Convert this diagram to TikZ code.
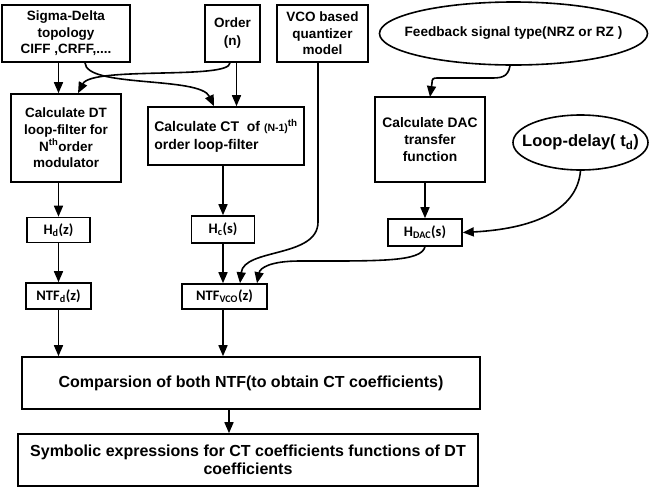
\documentclass[tikz,border=0pt]{standalone}
\usepackage{fontspec}
\setmainfont{Liberation Sans}
\newfontfamily\calfont{Carlito}
\usetikzlibrary{shapes.geometric,arrows.meta}
\begin{document}
\begin{tikzpicture}[x=1pt,y=-1pt,
  box/.style={draw, line width=1.6pt, inner sep=1pt, align=center,
    font=\bfseries\fontsize{13.5}{16.6}\selectfont},
  hbox/.style={draw, line width=1.6pt, inner sep=1pt, align=center,
    font=\calfont\bfseries\fontsize{14.5}{16}\selectfont},
  ell/.style={draw, ellipse, line width=1.6pt, inner ysep=0pt, align=center},
  arr/.style={line width=1.6pt, -{Triangle[length=11pt,width=9pt]}},
  ln/.style={line width=1.6pt}]
\useasboundingbox (0,0) rectangle (649,491);
% top row
\node[box, minimum width=128, minimum height=57] (sd) at (66,33.5) {Sigma-Delta\\topology\\CIFF ,CRFF,....};
\node[box, minimum width=55, minimum height=57, font=\bfseries\fontsize{13.5}{18}\selectfont] (ord) at (232.5,33.5) {Order\\(n)};
\node[box, minimum width=91, minimum height=57] (vco) at (322.5,33.5) {VCO based\\quantizer\\model};
\node[ell, minimum width=268, minimum height=63, inner xsep=-16pt, font=\bfseries\fontsize{13.6}{15}\selectfont] (fb) at (513.5,33.5) {Feedback signal type(NRZ or RZ )};
% second row
\node[box, minimum width=110, minimum height=88] (dt) at (66,138) {Calculate DT\\loop-filter for\\N\textsuperscript{th}order\\modulator};
\node[box, minimum width=156, minimum height=58, align=left, font=\bfseries\fontsize{14}{18}\selectfont] (ct) at (226,136) {Calculate CT\ \ of {\fontsize{10.5}{10}\selectfont(N-1)}\textsuperscript{th}\\order loop-filter};
\node[box, minimum width=110, minimum height=85, font=\bfseries\fontsize{13.8}{17}\selectfont] (dac) at (430,139.5) {Calculate DAC\\transfer\\function};
\node[ell, minimum width=135, minimum height=55, inner xsep=-13pt, font=\bfseries\fontsize{16.5}{18}\selectfont] (ld) at (580.5,142.5) {Loop-delay( t\textsubscript{d})};
% transfer functions
\node[hbox, minimum width=63, minimum height=25] (hd) at (58.5,230) {H\textsubscript{d}(z)};
\node[hbox, minimum width=63, minimum height=27] (hc) at (223,229.5) {H\textsubscript{c}(s)};
\node[hbox, minimum width=74, minimum height=27] (hdac) at (425,232.5) {H\textsubscript{DAC}(s)};
\node[hbox, minimum width=65, minimum height=26] (ntfd) at (58.5,296) {NTF\textsubscript{d}(z)};
\node[hbox, minimum width=85, minimum height=25] (ntfv) at (224.5,296.5) {NTF\textsubscript{VCO}(z)};
% bottom
\node[box, minimum width=458, minimum height=52, font=\bfseries\fontsize{16}{18}\selectfont] (cmp) at (251,383) {Comparsion of both NTF(to obtain CT coefficients)};
\node[box, minimum width=460, minimum height=52, font=\bfseries\fontsize{16}{18}\selectfont] (sym) at (248,460) {Symbolic expressions for CT coefficients functions of DT\\coefficients};
% connectors
\draw[arr] (sd.south -| hd.north) -- (dt.north -| hd.north);
\draw[arr] ([xshift=19]sd.south) .. controls (86,88) and (200,76) .. ([xshift=-12]ct.north);
\draw[arr] ([xshift=-2.5]ord.south) .. controls (230,80) and (92,66) .. ([xshift=12]dt.north);
\draw[arr] ([xshift=4]ord.south) -- ([xshift=4]ord.south |- ct.north);
\draw[arr] ([xshift=-3.5]fb.south) .. controls (508,78) and (500,78) .. (490,78) -- (437,78) .. controls (433,78) and (432,79) .. (432,83) -- (432,97 -| dac.north);
\draw[arr] (dt.south -| hd.north) -- (hd.north);
\draw[arr] (ct.south -| hc.north) -- (hc.north);
\draw[arr] (dac.south -| hdac.north) -- (hdac.north);
\draw[arr] (ld.south) .. controls (577,212) and (530,229) .. (hdac.east);
\draw[arr] (hd.south) -- (ntfd.north);
\draw[arr] (hc.south) -- (hc.south |- ntfv.north);
\draw[arr] ([xshift=-4.5]vco.south) -- (318,222) .. controls (318,258) and (244,248) .. ([xshift=15.5]ntfv.north);
\draw[arr] (hdac.south) .. controls (421,262) and (380,261) .. (300,261) .. controls (270,261) and (260,268) .. ([xshift=32.5]ntfv.north);
\draw[arr] (ntfd.south) -- (ntfd.south |- cmp.north);
\draw[arr] (ntfv.south -| hc.south) -- (cmp.north -| hc.south);
\draw[arr] (cmp.south -| 229,0) -- (sym.north -| 229,0);
\end{tikzpicture}
\end{document}
